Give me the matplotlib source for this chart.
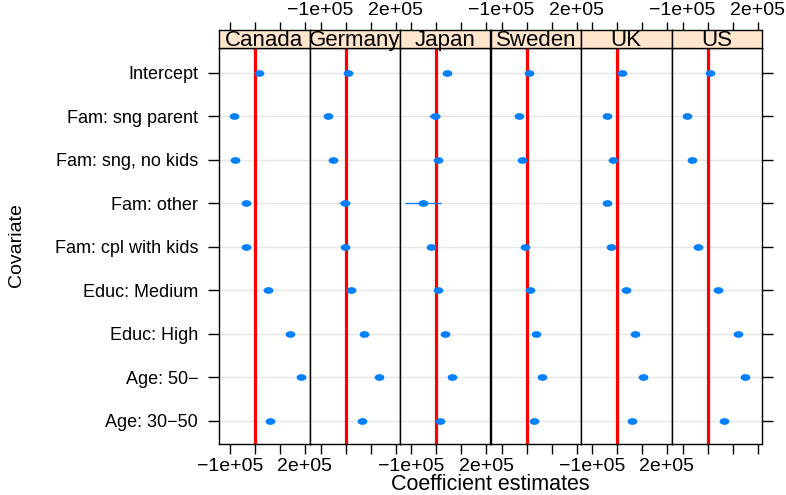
import numpy as np
import matplotlib.pyplot as plt
from matplotlib.path import Path

plt.rcParams['font.family'] = ['Liberation Sans', 'DejaVu Sans']

countries = ["Canada", "Germany", "Japan", "Sweden", "UK", "US"]
covariates = ["Intercept", "Fam: sng parent", "Fam: sng, no kids", "Fam: other",
              "Fam: cpl with kids", "Educ: Medium", "Educ: High",
              "Age: 50\u2212", "Age: 30\u221250"]

# coefficient estimates, one list per country (same order as covariates)
est_canada = [16000, -84000, -79000, -36000, -36000, 52000, 140000, 184000, 60000]
est_germany = [10000, -71000, -52000, -4000, -4000, 20000, 72000, 132000, 64000]
est_japan = [44000, -6000, 6000, -51000, -20000, 8000, 36000, 64000, 16000]
est_sweden = [10000, -30000, -20000, np.nan, -7000, 12000, 36000, 60000, 28000]
est_uk = [20000, -42000, -16000, -40000, -24000, 36000, 72000, 104000, 60000]
est_us = [8000, -82000, -64000, np.nan, -37000, 40000, 120000, 148000, 64000]

# half-widths of the confidence intervals
ci_canada = [8000, 8000, 8000, 10000, 8000, 8000, 8000, 8000, 8000]
ci_germany = [8000, 8000, 8000, 22000, 8000, 8000, 8000, 8000, 8000]
ci_japan = [10000, 22000, 10000, 72000, 10000, 10000, 10000, 10000, 10000]
ci_sweden = [8000, 8000, 8000, np.nan, 8000, 8000, 8000, 8000, 8000]
ci_uk = [8000, 8000, 8000, 12000, 8000, 8000, 8000, 8000, 8000]
ci_us = [8000, 8000, 8000, np.nan, 8000, 8000, 8000, 8000, 8000]

estimates = [est_canada, est_germany, est_japan, est_sweden, est_uk, est_us]
cis = [ci_canada, ci_germany, ci_japan, ci_sweden, ci_uk, ci_us]

xticks = [-1e5, 0, 1e5, 2e5]
xticklabels = ["\u22121e+05", "", "", "2e+05"]
xlim = (-1.44e5, 2.18e5)

dot_blue = "#0080ff"
strip_col = "#ffe5cc"

# slightly wide ellipse used as the dot symbol
theta = np.linspace(0, 2 * np.pi, 60)
ell = Path(np.column_stack([1.45 * np.cos(theta), np.sin(theta)]), closed=True)

fig = plt.figure(figsize=(7.86, 4.95), dpi=100)
W, H = 786, 495
left, right = 219 / W, 762 / W
bottom, top = 1 - 444 / H, 1 - 48 / H
strip_top = 1 - 30 / H
w = (right - left) / len(countries)
ypos = np.arange(len(covariates))

for i, country in enumerate(countries):
    ax = fig.add_axes([left + i * w, bottom, w, top - bottom])
    sx = fig.add_axes([left + i * w, top, w, strip_top - top])

    for y in ypos:
        ax.axhline(y, color="#e6e6e6", lw=1, zorder=0)
    ax.axvline(0, color="red", lw=2.3, zorder=1)

    vals = np.array(estimates[i], dtype=float)
    err = np.array(cis[i], dtype=float)
    ok = ~np.isnan(vals)
    ax.hlines(ypos[ok], vals[ok] - err[ok], vals[ok] + err[ok], color=dot_blue, lw=1, zorder=2)
    ax.plot(vals[ok], ypos[ok], linestyle="none", marker=ell, markersize=7,
            color=dot_blue, markeredgewidth=0, zorder=3)

    ax.set_xlim(*xlim)
    ax.set_ylim(8.53, -0.57)
    ax.set_xticks(xticks)
    for s in ax.spines.values():
        s.set_linewidth(1)

    # bottom ticks on every panel, labels alternate with the top
    ax.tick_params(axis="x", direction="out", length=7, width=1, pad=3, labelsize=14)
    if i % 2 == 0:
        ax.set_xticklabels(xticklabels)
    else:
        ax.set_xticklabels([""] * 4)

    if i == 0:
        ax.set_yticks(ypos)
        ax.set_yticklabels(covariates)
        ax.tick_params(axis="y", direction="out", length=8, width=1, pad=7, labelsize=13)
    elif i == len(countries) - 1:
        ax.yaxis.tick_right()
        ax.set_yticks(ypos)
        ax.set_yticklabels([])
        ax.tick_params(axis="y", direction="out", length=8, width=1)
    else:
        ax.set_yticks([])

    # strip with the country name, top axis ticks live here
    sx.set_facecolor(strip_col)
    sx.set_xlim(*xlim)
    sx.set_ylim(0, 1)
    sx.set_yticks([])
    sx.set_xticks(xticks)
    sx.xaxis.tick_top()
    sx.tick_params(axis="x", direction="out", length=6, width=1, pad=2, labelsize=14)
    if i % 2 == 1:
        sx.set_xticklabels(xticklabels)
    else:
        sx.set_xticklabels([""] * 4)
    for s in sx.spines.values():
        s.set_linewidth(1)
    sx.text(0.5, 0.42, country, transform=sx.transAxes, ha="center", va="center",
            fontsize=16, clip_on=False)

fig.text(490 / W, 1 - 485 / H, "Coefficient estimates", ha="center", va="center", fontsize=15.5)
fig.text(17 / W, 1 - 245 / H, "Covariate", ha="center", va="center", rotation=90, fontsize=14)

fig.savefig("out.png", dpi=100)
